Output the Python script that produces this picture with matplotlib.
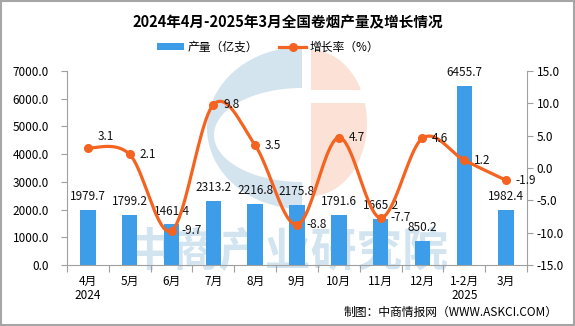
import numpy as np
import matplotlib
matplotlib.use("Agg")
import matplotlib.pyplot as plt
from matplotlib.patches import Polygon, Rectangle, Patch
from matplotlib.lines import Line2D

plt.rcParams['font.family'] = ['Noto Sans CJK SC', 'DejaVu Sans']

# ---- data ----
months = ["4月\n2024", "5月", "6月", "7月", "8月", "9月", "10月", "11月", "12月", "1-2月\n2025", "3月"]
output = [1979.7, 1799.2, 1461.4, 2313.2, 2216.8, 2175.8, 1791.6, 1665.2, 850.2, 6455.7, 1982.4]
growth = [3.1, 2.1, -9.7, 9.8, 3.5, -8.8, 4.7, -7.7, 4.6, 1.2, -1.9]

BAR_COLOR = '#3d9de9'
LINE_COLOR = '#f4631f'
AXIS_COLOR = '#a0a0a0'

W, H = 575, 326
fig = plt.figure(figsize=(W / 100, H / 100), dpi=100)

# ---- background layer (pixel coordinates) with logo and watermark ----
bg = fig.add_axes([0, 0, 1, 1], zorder=0)
bg.set_xlim(0, W)
bg.set_ylim(H, 0)
bg.axis('off')


def half_ellipse(cx, cy, rx, ry, left=True, n=120):
    th = np.linspace(np.pi / 2, 3 * np.pi / 2, n) if left else np.linspace(-np.pi / 2, np.pi / 2, n)
    return np.column_stack([cx + rx * np.cos(th), cy + ry * np.sin(th)])


bg.add_patch(Polygon(half_ellipse(302, 128, 95, 81), closed=True, color='#d4e4ee', lw=0))
bg.add_patch(Polygon(half_ellipse(302, 135, 88, 47), closed=True, color='white', lw=0))
bg.add_patch(Polygon(half_ellipse(311, 123, 56, 73, left=False), closed=True, color='#fbe1d6', lw=0))
bg.add_patch(Rectangle((309, 90), 65, 13, color='white', lw=0))
bg.text(288, 253, "中商产业研究院", fontsize=33, fontweight='bold', color='#d2e4f0',
        ha='center', va='center')

# figure frame
fig.patches.append(Rectangle((0.001, 0.002), 0.997, 0.995, transform=fig.transFigure,
                             fill=False, edgecolor='#a6a6a6', lw=1.5))

# ---- main axes ----
left, right, top, bottom = 67, 527, 71, 265
ax = fig.add_axes([left / W, 1 - bottom / H, (right - left) / W, (bottom - top) / H], zorder=1)
ax.patch.set_alpha(0)
x = np.arange(len(months))

bars = ax.bar(x, output, width=0.37, color=BAR_COLOR, zorder=2)
ax.set_ylim(0, 7000)
ax.set_xlim(-0.5, len(months) - 0.5)
ax.set_yticks(np.arange(0, 7001, 1000))
ax.set_yticklabels([f"{v:.1f}" for v in np.arange(0, 7001, 1000)])
ax.set_xticks(np.arange(-0.5, len(months), 1))
ax.set_xticklabels([])
ax.set_xticks(x, minor=True)
ax.set_xticklabels(months, minor=True, linespacing=1.1)
ax.tick_params(axis='x', which='major', length=5, color=AXIS_COLOR, direction='out')
ax.tick_params(axis='x', which='minor', length=0, pad=7, labelsize=8.5)
ax.tick_params(axis='y', length=4, color=AXIS_COLOR, labelsize=8.5, pad=9)
for s in ['top', 'right']:
    ax.spines[s].set_visible(False)
for s in ['left', 'bottom']:
    ax.spines[s].set_color(AXIS_COLOR)

for xi, v in zip(x, output):
    ax.annotate(f"{v:.1f}", (xi, v), xytext=(0, 5), textcoords='offset points',
                ha='center', va='bottom', fontsize=8.5, color='#111111', zorder=3)

# ---- growth-rate axis ----
ax2 = ax.twinx()
ax2.set_zorder(2)
ax2.patch.set_alpha(0)
ax2.set_ylim(-15, 15)
ax2.set_yticks(np.arange(-15, 16, 5))
ax2.set_yticklabels([f"{v:.1f}" for v in np.arange(-15, 16, 5)])
ax2.tick_params(axis='y', length=4, color=AXIS_COLOR, labelsize=8.5, pad=3)
for s in ['top', 'left', 'bottom']:
    ax2.spines[s].set_visible(False)
ax2.spines['right'].set_color(AXIS_COLOR)


def smooth_curve(xs, ys, n=40):
    p = np.column_stack([xs, ys]).astype(float)
    out = []
    for i in range(len(p) - 1):
        p0 = p[i - 1] if i > 0 else p[i]
        p1, p2 = p[i], p[i + 1]
        p3 = p[i + 2] if i + 2 < len(p) else p[i + 1]
        c1 = p1 + (p2 - p0) / 6
        c2 = p2 - (p3 - p1) / 6
        t = np.linspace(0, 1, n)[:, None]
        seg = ((1 - t) ** 3) * p1 + 3 * ((1 - t) ** 2) * t * c1 + 3 * (1 - t) * t ** 2 * c2 + t ** 3 * p2
        out.append(seg if i == 0 else seg[1:])
    return np.vstack(out)


curve = smooth_curve(x, growth)
ax2.plot(curve[:, 0], curve[:, 1], color=LINE_COLOR, lw=2.3, solid_capstyle='round', zorder=3)
ax2.plot(x, growth, 'o', color=LINE_COLOR, ms=5.5, zorder=4)
for i, (xi, g) in enumerate(zip(x, growth)):
    dy = 8 if i == 0 else 0
    ax2.annotate(f"{g:.1f}", (xi, g), xytext=(7, dy), textcoords='offset points',
                 ha='left', va='center', fontsize=8.5, color='#111111', zorder=5)

# ---- title, legend, source ----
fig.text(0.5, 1 - 22 / H, "2024年4月-2025年3月全国卷烟产量及增长情况", ha='center', va='center',
         fontsize=10.5, fontweight='bold')
handles = [Patch(facecolor=BAR_COLOR, edgecolor='none'),
           Line2D([0], [0], color=LINE_COLOR, lw=2.3, marker='o', ms=5.5)]
fig.legend(handles, ["产量（亿支）", "增长率（%）"], loc='center', ncol=2,
           bbox_to_anchor=(268 / W, 1 - 47 / H), frameon=False, fontsize=8.5,
           handlelength=2.3, handleheight=0.5, columnspacing=1.8, handletextpad=0.3)
fig.text(558 / W, 1 - 312 / H, "制图：中商情报网（WWW.ASKCI.COM）", ha='right', va='center',
         fontsize=8.5)

fig.savefig("out.png", dpi=100)
